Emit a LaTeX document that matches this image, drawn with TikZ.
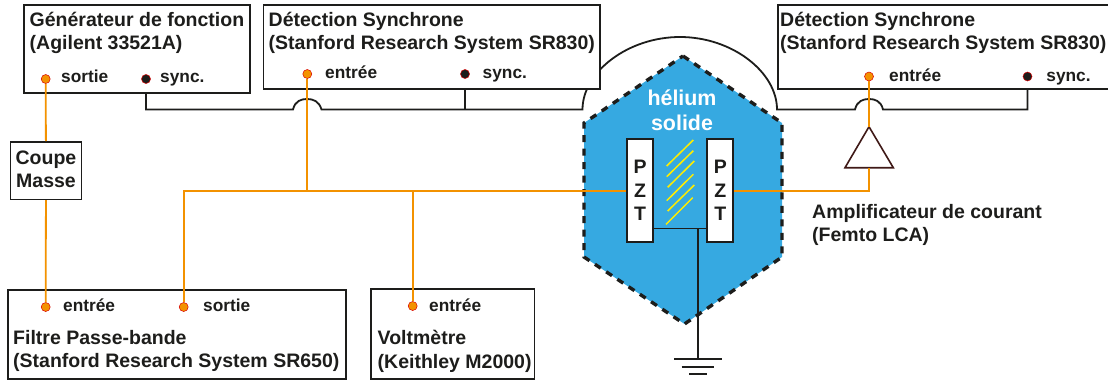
\documentclass[tikz,border=0pt]{standalone}
\usepackage{fontspec}
\setmainfont{Liberation Sans}[BoldFont={Liberation Sans Bold}]
\definecolor{wireor}{HTML}{F39200}
\definecolor{ink}{HTML}{1D1D1B}
\definecolor{hel}{HTML}{36A9E1}
\definecolor{hatch}{HTML}{FFED00}
\tikzset{
  x=1pt,y=-1pt,
  instr/.style={draw=ink,line width=1.7pt,fill=white,inner sep=0pt},
  lbl/.style={font=\fontsize{19.5}{23.5}\selectfont\bfseries,text=ink,inner sep=0pt,anchor=north west,align=left},
  port/.style={font=\fontsize{17.3}{20}\selectfont\bfseries,text=ink,inner sep=0pt,anchor=base west},
  odot/.style={circle,fill=wireor,draw=red!85!black,line width=.5pt,minimum size=9pt,inner sep=0pt},
  bdot/.style={circle,fill=ink,draw=red!85!black,line width=.5pt,minimum size=9pt,inner sep=0pt},
  owire/.style={draw=wireor,line width=1.8pt},
  bwire/.style={draw=ink,line width=1.8pt},
  pzt/.style={draw=ink,fill=white,line width=1.7pt,minimum width=26pt,minimum height=103pt,inner sep=0pt,font=\fontsize{19.5}{23.5}\selectfont\bfseries,text=ink,align=center},
}
\begin{document}
\begin{tikzpicture}
\useasboundingbox (0,0) rectangle (1108,383);
\coordinate (ps2) at (146,79);
\coordinate (ps3) at (465,74);
\coordinate (ps4) at (1027.5,76.5);
\coordinate (tj3) at (465,109.5);
% black wires
\draw[bwire] (ps2) -- (146,109.5) -- (293,109.5) .. controls (295,101) and (301,99) .. (307,99) .. controls (313,99) and (319,101) .. (321.5,109.5) -- (582.5,109.5)
  .. controls (582.5,72) and (628,37) .. (680,37) .. controls (732,37) and (777,72) .. (777,109.5) -- (855,109.5)
  .. controls (857,101) and (863,99) .. (869,99) .. controls (875,99) and (881,101) .. (883,109.5) -- (1027.5,109.5) -- (ps4);
\draw[bwire] (ps3) -- (tj3);
% instrument boxes
\node[instr,minimum width=226pt,minimum height=88.6pt] (gener) at (136.7,49) {};
\node[instr,minimum width=336.7pt,minimum height=84.3pt] (ds1) at (431.7,46.85) {};
\node[instr,minimum width=340pt,minimum height=84pt] (ds2) at (948.3,46.7) {};
\node[instr,minimum width=338pt,minimum height=88.7pt] (filt) at (176.7,334.3) {};
\node[instr,minimum width=163.3pt,minimum height=90pt] (volt) at (452.7,334) {};
\node[instr,minimum width=71pt,minimum height=57.3pt] (coupe) at (46,170.7) {};
% helium cell
\fill[hel] (683,56) -- (782,123) -- (782,257) -- (684.5,324) -- (584,257) -- (584,123) -- cycle;
\draw[ink,line width=3.4pt,dash pattern=on 7pt off 6.5pt] (683,56) -- (782,123) -- (782,257) -- (684.5,324) -- (584,257) -- (584,123) -- cycle;
\node[font=\fontsize{21.4}{25}\selectfont\bfseries,text=white,align=center,inner sep=0pt,anchor=north] (hel) at (682,88) {\rule{0pt}{17pt}hélium\\solide};
% hatch
\foreach \a/\b/\c/\d in {666.7/166/693.3/140,666.7/176.7/693.3/150.7,667.7/187.3/694.3/161,666.7/200.7/693.3/174.3,667.7/211/694.3/185,666/224.3/692.7/197.7}{
  \draw[hatch,line width=1.5pt] (\a,\b) -- (\c,\d);}
% PZT and ground
\node[pzt] (pzl) at (640,190.5) {P\\Z\\T};
\node[pzt] (pzr) at (720.3,190.5) {P\\Z\\T};
\coordinate (gndtop) at (698,228.5);
\coordinate (gnd) at (698,359);
\draw[bwire] (pzl.east |- gndtop) -- (pzr.west |- gndtop);
\draw[bwire] (gndtop) -- (gnd);
\draw[ink,line width=2pt] (674,359) -- (722.3,359) (681.7,366.7) -- (714.3,366.7) (689.3,374.3) -- (706.7,374.3);
% amplifier
\coordinate (apex) at (869,126.7);
\coordinate (abase) at (869,167.7);
\draw[fill=white,draw=ink!85!red,line width=1.6pt,line join=miter] (apex) -- (893.3,167.7) -- (845,167.7) -- cycle;
% ports
\node[odot] (s1) at (45.7,79) {};
\node[bdot] (s2) at (ps2) {};
\node[odot] (e1) at (307.3,74) {};
\node[bdot] (s3) at (ps3) {};
\node[odot] (e2) at (869,76.5) {};
\node[bdot] (s4) at (ps4) {};
\node[odot] (f1) at (45.7,307) {};
\node[odot] (f2) at (183.7,307) {};
\node[odot] (v1) at (412.7,306) {};
% orange wires
\coordinate (j1) at (183.7,190.7);
\coordinate (j2) at (307.3,190.7);
\coordinate (j3) at (412.7,190.7);
\coordinate (j4) at (869,190.7);
\draw[owire] (s1) -- (coupe);
\draw[owire] (coupe) -- (f1);
\draw[owire] (f2) -- (j1) -- (pzl.west |- j1);
\draw[owire] (e1) -- (j2);
\draw[owire] (v1) -- (j3);
\draw[owire] (pzr.east |- j4) -- (j4) -- (abase);
\draw[owire] (e2) -- (apex);
% labels
\node[lbl] at (29.5,11) {\rule{0pt}{15pt}Générateur de fonction\\(Agilent 33521A)};
\node[lbl] at (268.5,11) {\rule{0pt}{15pt}Détection Synchrone\\(Stanford Research System SR830)};
\node[lbl] at (780,11) {\rule{0pt}{15pt}Détection Synchrone\\(Stanford Research System SR830)};
\node[lbl] at (13,329) {\rule{0pt}{15pt}Filtre Passe-bande\\(Stanford Research System SR650)};
\node[lbl] at (377.5,329.5) {\rule{0pt}{15pt}Voltmètre\\(Keithley M2000)};
\node[lbl] at (812,203) {\rule{0pt}{15pt}Amplificateur de courant\\(Femto LCA)};
\node[lbl,anchor=north,align=center] at (46,149) {\rule{0pt}{15pt}Coupe\\Masse};
\node[port] at (61,82.7) {sortie};
\node[port] at (160,82.7) {sync.};
\node[port] at (325,78) {entrée};
\node[port] at (482.5,78) {sync.};
\node[port] at (889,81) {entrée};
\node[port] at (1046.2,81) {sync.};
\node[port] at (63,311.7) {entrée};
\node[port] at (203,311.7) {sortie};
\node[port] at (429,311) {entrée};
\end{tikzpicture}
\end{document}
